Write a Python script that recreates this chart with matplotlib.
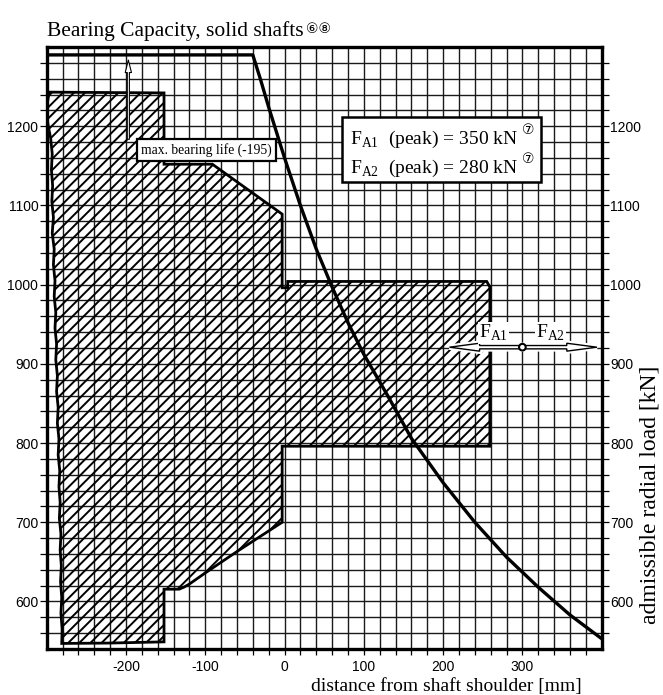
import numpy as np
import matplotlib
matplotlib.use('Agg')
import matplotlib.pyplot as plt
from matplotlib.patches import Polygon, Circle, FancyArrow, Rectangle

plt.rcParams['mathtext.fontset'] = 'custom'
plt.rcParams['mathtext.rm'] = 'Liberation Serif'
plt.rcParams['hatch.linewidth'] = 1.4

SERIF = ['Liberation Serif', 'DejaVu Serif']
NARROW = ['Liberation Sans Narrow', 'Liberation Sans', 'DejaVu Sans']
CIRC = ['DejaVu Sans', 'Noto Sans CJK JP']

# admissible radial load curve (mm, kN)
curve_x = [-300, -40, -30, -20, -10, 0, 20, 40, 60, 80, 100, 130, 160, 200, 240, 280, 320, 360, 400]
curve_y = [1290, 1290, 1258, 1224, 1192, 1160, 1100, 1045, 997, 952, 912, 860, 806, 750, 700, 656, 618, 583, 553]

# hatched bearing zone outline (clockwise from top left corner)
zone_x = [-297, -152, -152, -91, -3, -3, 4, 4, 255, 259, 259, -3, -3, -57, -100, -120, -127, -133, -152, -152, -220, -281]
zone_y = [1243, 1242, 1152, 1152, 1089, 996, 996, 1004, 1004, 997, 796, 796, 700, 665, 636, 622, 618, 615.5, 615.5, 549, 547.5, 547]
# hand drawn break line on the left side (bottom -> top)
break_y = [565, 585, 605, 625, 645, 665, 685, 705, 725, 745, 765, 785, 805, 825, 845, 865, 885, 905,
           925, 945, 965, 985, 1005, 1025, 1045, 1065, 1085, 1105, 1125, 1145, 1165, 1185, 1200, 1215, 1230]
break_x = [-280.5, -282, -281, -282.5, -281.5, -283, -282, -284, -283, -284.5, -283.5, -285.5, -284.5, -286.5,
           -285.5, -287.5, -286.5, -288.5, -287.5, -289.5, -288.5, -290.5, -289.5, -291.5, -290.5, -293, -291.5,
           -293.5, -292.5, -294, -293, -295, -298, -300, -299]

x_ticks = [-200, -100, 0, 100, 200, 300]
y_ticks = [600, 700, 800, 900, 1000, 1100, 1200]

life_pos = (-195, 1170)
fa_circle = (300, 921)
fa1_tip = 208
fa2_tip = 394

fig = plt.figure(figsize=(6.63, 6.95), dpi=100)
ax = fig.add_axes([0.0704, 0.0662, 0.8371, 0.8662])
ax.set_xlim(-300, 400)
ax.set_ylim(540, 1300)

ax.set_xticks(x_ticks)
ax.set_xticks(np.arange(-280, 400, 20), minor=True)
ax.set_yticks(y_ticks)
ax.set_yticks(np.arange(560, 1300, 20), minor=True)
ax.set_xticklabels([str(v) for v in x_ticks], family=NARROW, fontsize=10)
ax.set_yticklabels([str(v) for v in y_ticks], family=NARROW, fontsize=10)
ax.tick_params(axis='x', which='both', direction='out', length=4, width=0.9, pad=4, top=False)
ax.tick_params(axis='y', which='both', direction='out', length=5, width=0.9, pad=1,
               left=True, right=True, labelleft=True, labelright=True)
ax.grid(which='both', color='#1a1a1a', lw=1.0)
ax.set_axisbelow(True)
for s in ax.spines.values():
    s.set_linewidth(2.4)

# hatched zone
outline = list(zip(zone_x, zone_y)) + list(zip(break_x, break_y))
ax.add_patch(Polygon(outline, closed=True, facecolor='none', edgecolor='black', lw=2,
                     hatch='///', zorder=2))

# capacity curve
ax.plot(curve_x, curve_y, color='black', lw=2.4, zorder=3, solid_joinstyle='round')

# max. bearing life marker
ax.annotate('', xy=(life_pos[0] - 2, 1287), xytext=(life_pos[0] - 2, 1180),
            arrowprops=dict(arrowstyle='simple,head_width=0.45,head_length=0.9,tail_width=0.15',
                            fc='white', ec='black', lw=0.8), zorder=4)
ax.text(-98, 1170, 'max. bearing life (-195)', family=SERIF, fontsize=9.8, ha='center', va='center',
        zorder=5, bbox=dict(boxstyle='square,pad=0.3', fc='white', ec='black', lw=1.6))

# axial force box
ax.add_patch(Rectangle((73, 1129), 250, 83, fc='white', ec='black', lw=1.8, zorder=5))
ax.text(82, 1177, r'F$_{\rm A1}$  (peak) = 350 kN', family=SERIF, fontsize=14, va='baseline', zorder=6)
ax.text(82, 1141, r'F$_{\rm A2}$  (peak) = 280 kN', family=SERIF, fontsize=14, va='baseline', zorder=6)
ax.text(307, 1195, '⑦', family=CIRC, fontsize=10, ha='center', va='center', zorder=6)
ax.text(307, 1159, '⑦', family=CIRC, fontsize=10, ha='center', va='center', zorder=6)

# axial force arrows
cx, cy = fa_circle
for tip in (fa1_tip, fa2_tip):
    for ec, lw in (('white', 4), ('black', 1)):
        ax.add_patch(FancyArrow(cx, cy, tip - cx, 0, width=4.2, head_width=10, head_length=38,
                                length_includes_head=True, fc='white', ec=ec, lw=lw, zorder=5))
ax.add_patch(Circle(fa_circle, 4.2, fc='white', ec='black', lw=1.5, zorder=6))
ax.text(264, 939, r'F$_{\rm A1}$', family=SERIF, fontsize=14, ha='center', va='center', zorder=6,
        bbox=dict(boxstyle='square,pad=0.05', fc='white', ec='none'))
ax.text(335, 939, r'F$_{\rm A2}$', family=SERIF, fontsize=14, ha='center', va='center', zorder=6,
        bbox=dict(boxstyle='square,pad=0.05', fc='white', ec='none'))

# labels
fig.text(582 / 663, 1 - 687 / 695, 'distance from shaft shoulder [mm]', family=SERIF, fontsize=14,
         ha='right', va='center')
fig.text(650 / 663, 1 - 495 / 695, 'admissible radial load [kN]', family=SERIF, fontsize=17,
         rotation=90, ha='center', va='center')
title = fig.text(47 / 663, 1 - 36 / 695, 'Bearing Capacity, solid shafts', family=SERIF, fontsize=15.5,
                 ha='left', va='baseline')
fig.canvas.draw()
bb = title.get_window_extent()
fig.text((bb.x1 + 2) / 663, (bb.y1 - 1) / 695, '⑥⑧', family=CIRC, fontsize=10, ha='left', va='top')

fig.savefig('out.png', dpi=100)
